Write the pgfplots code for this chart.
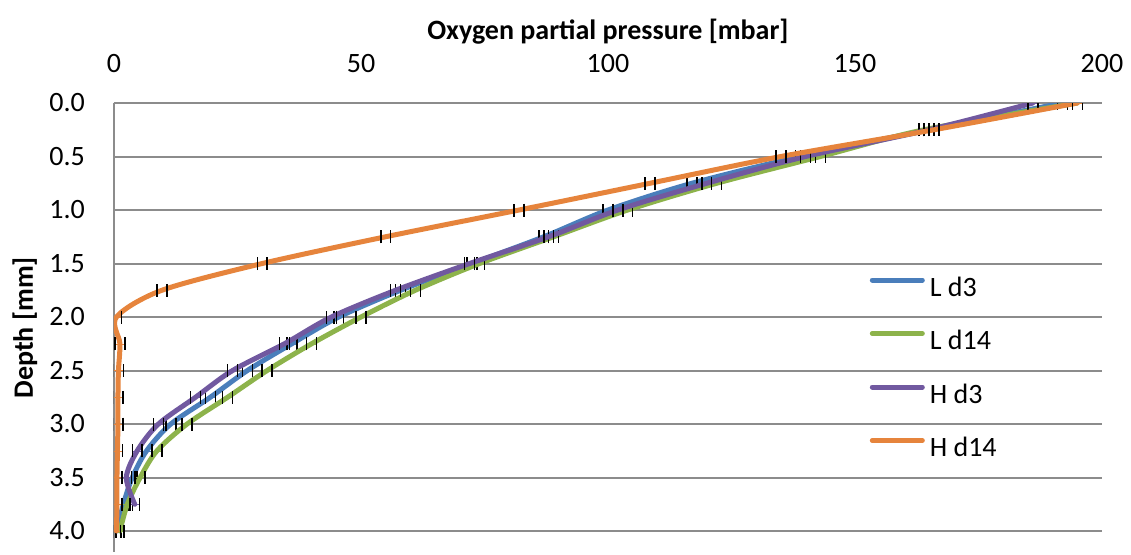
\documentclass[border=0pt]{standalone}
\usepackage{pgfplots}
\pgfplotsset{compat=1.18}
\usepackage{pgfplotstable}
\usepackage{fontspec}
\setmainfont{Carlito}
\definecolor{cblue}{HTML}{4A7EBB}
\definecolor{cgreen}{HTML}{8DB34B}
\definecolor{cpurple}{HTML}{7159A0}
\definecolor{corange}{HTML}{E6843C}
\definecolor{cgrid}{HTML}{8C8C8C}

\pgfplotstableread{
y x e
0.00 192 1
0.25 165 1
0.50 139 1
0.75 117 1
1.00 100 1
1.25 87 1
1.50 72.5 1
1.75 58 1
2.00 45.5 1
2.25 36 1
2.50 27 1
2.75 19.5 1
3.00 11.5 1
3.25 6.6 1
3.50 3.7 1
3.75 1.9 1
4.00 0.6 0.8
}\Ldthree
\pgfplotstableread{
y x e
0.00 195 1
0.25 164 1
0.50 143 1
0.75 122 1
1.00 104 1
1.25 89 1
1.50 74 1
1.75 61 1
2.00 50 1
2.25 40 1
2.50 31 1
2.75 23 1
3.00 14.8 1
3.25 8.7 1
3.50 5.3 1
3.75 2.7 1
4.00 1.2 0.8
}\Ldfourteen
\pgfplotstableread{
y x e
0.00 186 1
0.25 165 1
0.50 140 1
0.75 120 1
1.00 102 1
1.25 88 1
1.50 72 1
1.75 57 1
2.00 44 1
2.25 34.5 1
2.50 24 1
2.75 16.5 1
3.00 9 1
3.25 4.7 1
3.50 2.5 1
3.75 4.2 1
}\Hdthree
\pgfplotstableread{
y x e
0.00 195 1
0.25 166 1
0.50 135 1
0.75 108.5 1
1.00 82 1
1.25 55 1
1.50 30 1
1.75 9.7 1
2.00 0.5 1
2.25 1.2 1
2.50 0.9 1
2.75 0.8 1
3.00 0.8 1
3.25 0.7 1
3.50 0.6 1
3.75 0.6 1
4.00 0.5 0.8
}\Hdfourteen

\begin{document}
\begin{tikzpicture}
\useasboundingbox (-114pt,103pt) rectangle (1017pt,-451pt);
\begin{axis}[
  at={(0pt,0pt)}, anchor=north west,
  scale only axis,
  width=988pt, height=449.4pt,
  xmin=0, xmax=200, ymin=0, ymax=4.2,
  y dir=reverse,
  axis x line*=top, axis y line*=left,
  axis line style={cgrid, line width=2pt},
  xtick={0,50,100,150,200},
  ytick={0,0.5,...,4.0},
  major tick length=0pt,
  ymajorgrids,
  major grid style={cgrid, line width=2pt},
  /pgf/number format/assume math mode=true,
  yticklabel={\pgfmathprintnumber[fixed, fixed zerofill, precision=1]{\tick}},
  ticklabel style={font=\fontsize{28}{32}\selectfont},
  xticklabel style={anchor=base, inner sep=0pt, yshift=31pt},
  yticklabel style={anchor=east, inner sep=0pt, xshift=-29pt},
  xlabel={Oxygen partial pressure [mbar]},
  ylabel={Depth [mm]},
  every axis x label/.style={at={(axis description cs:0.5,1.1424)}, anchor=base,
    inner sep=0pt, font=\bfseries\fontsize{28}{32}\selectfont},
  every axis y label/.style={at={(axis description cs:-0.0901,0.5)}, rotate=90, anchor=center,
    inner sep=0pt, font=\bfseries\fontsize{28}{32}\selectfont},
  legend style={at={(axis cs:153,1.617)}, anchor=north west, draw=none, fill=none,
    inner sep=0pt, outer sep=0pt, row sep=27.5pt, column sep=5pt,
    font=\fontsize{28}{32}\selectfont,
    nodes={inner sep=0pt, text height=20pt, text depth=6pt}},
  legend cell align=left,
  legend image code/.code={\draw[#1, line width=5pt, line cap=round] (2.5pt,9pt) -- (52.5pt,9pt);},
  every axis plot/.append style={line width=5pt, line cap=round, line join=round, smooth},
  error bars/x dir=both, error bars/x explicit,
  error bars/error bar style={draw=none},
  error bars/error mark options={draw=black, line width=1.5pt, mark size=6.5pt, rotate=90},
]
\addplot[cblue] table[x=x, y=y, x error=e] {\Ldthree};
\addlegendentry{L d3}
\addplot[cgreen] table[x=x, y=y, x error=e] {\Ldfourteen};
\addlegendentry{L d14}
\addplot[cpurple] table[x=x, y=y, x error=e] {\Hdthree};
\addlegendentry{H d3}
\addplot[corange] table[x=x, y=y, x error=e] {\Hdfourteen};
\addlegendentry{H d14}
\end{axis}
\end{tikzpicture}
\end{document}
